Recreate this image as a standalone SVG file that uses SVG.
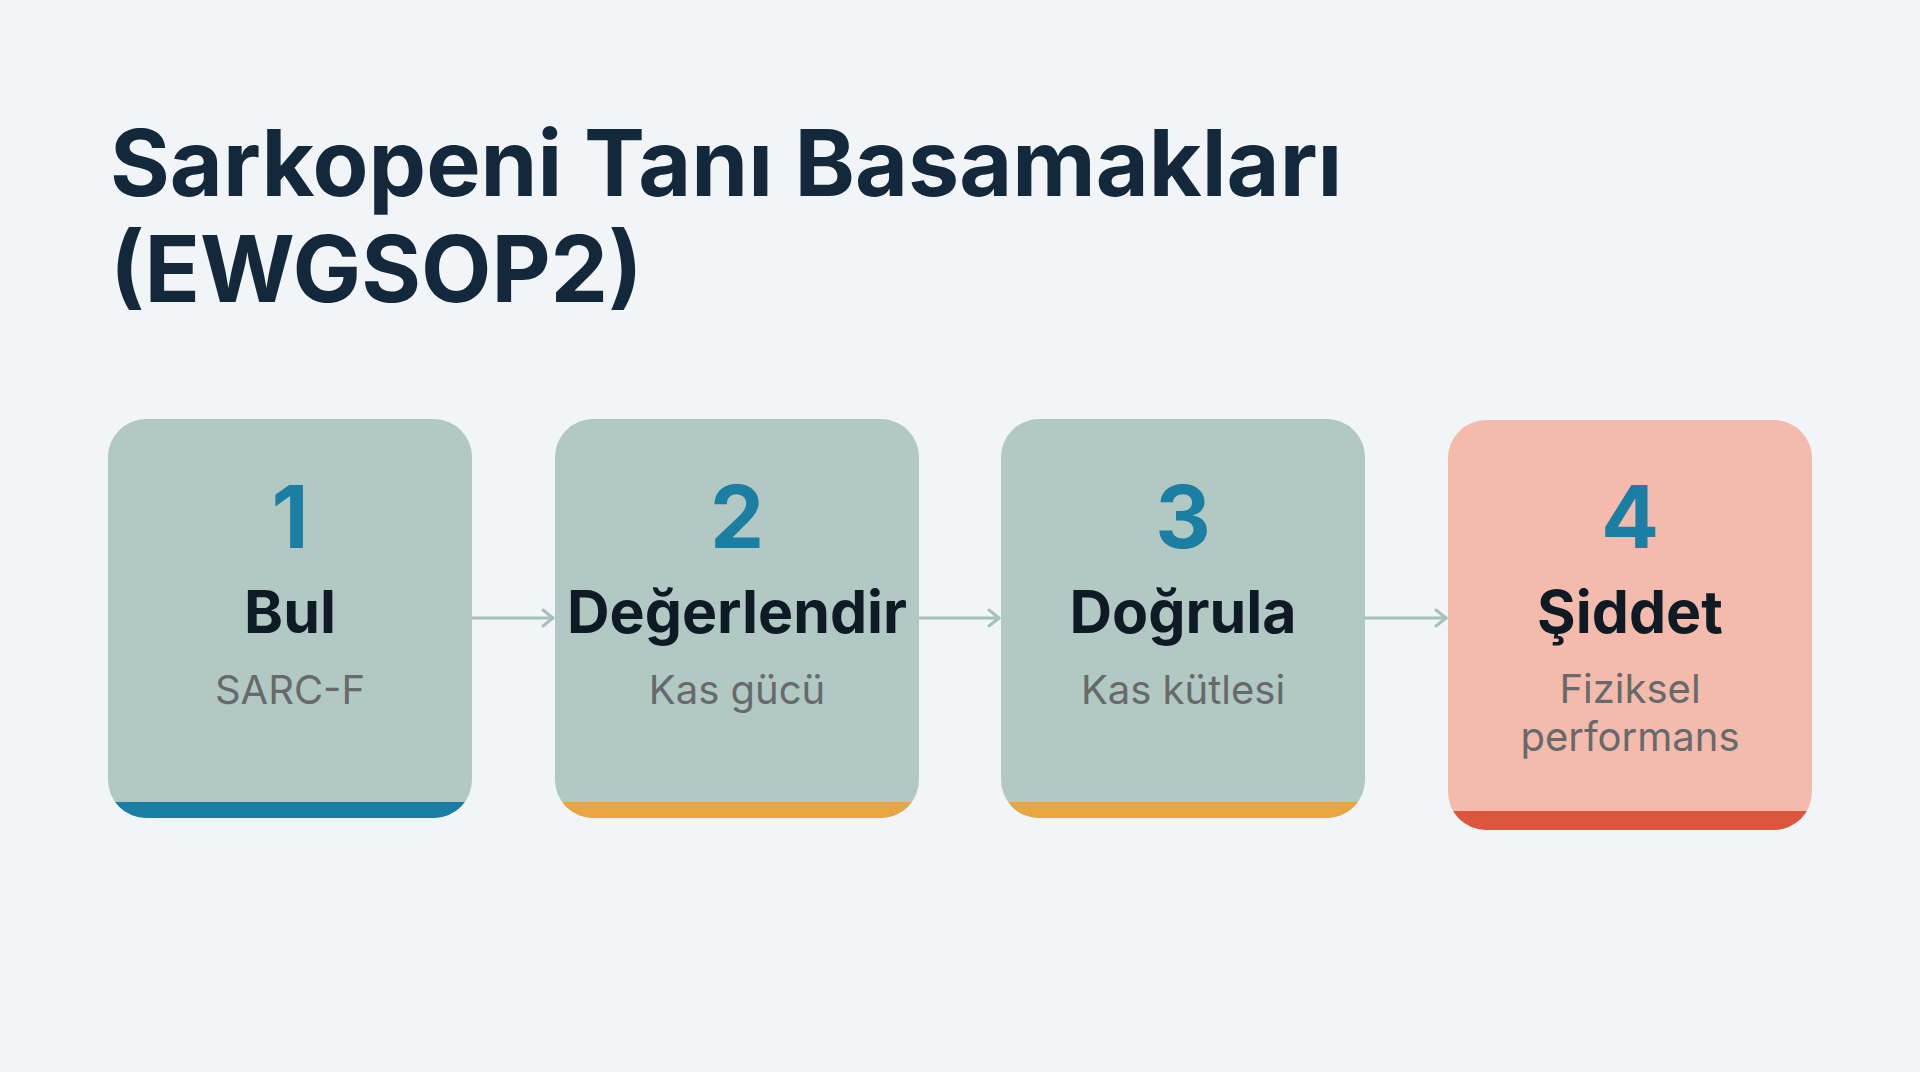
<svg xmlns="http://www.w3.org/2000/svg" width="1920" height="1072" viewBox="0 0 1920 1072">
<style>
.title{font-family:Inter,"Liberation Sans",sans-serif;font-weight:700;font-size:91.4px;fill:#13293b}
.num{font-family:Inter,"Liberation Sans",sans-serif;font-weight:700;font-size:86px;fill:#1b7ea3;text-anchor:middle}
.head{font-family:Inter,"Liberation Sans",sans-serif;font-weight:700;font-size:59px;fill:#0e1b25;text-anchor:middle}
.sub{font-family:Inter,"Liberation Sans",sans-serif;font-weight:400;font-size:40px;fill:#666a6b;text-anchor:middle}
.box{fill:#b1c9c2}
.box4{fill:#f4bbad}
.conn{stroke:#a7c1ba;stroke-width:3;fill:none;stroke-linecap:round;stroke-linejoin:round}
</style>
<defs>
<clipPath id="c1"><rect x="108" y="419" width="364" height="399" rx="38"/></clipPath>
<clipPath id="c2"><rect x="555" y="419" width="364" height="399" rx="38"/></clipPath>
<clipPath id="c3"><rect x="1001" y="419" width="364" height="399" rx="38"/></clipPath>
<clipPath id="c4"><rect x="1448" y="420" width="364" height="410" rx="38"/></clipPath>
<marker id="arr" viewBox="0 0 14 20" refX="12" refY="10" markerWidth="14" markerHeight="20" markerUnits="userSpaceOnUse" orient="auto">
<path d="M2,2 L12,10 L2,18" stroke="#a7c1ba" stroke-width="3" fill="none" stroke-linecap="round" stroke-linejoin="round"/>
</marker>
</defs>
<rect width="1920" height="1072" fill="#f2f5f7"/>
<g id="title">
<text class="title" x="110" y="196">Sarkopeni Tanı Basamakları</text>
<text class="title" x="110" y="302">(EWGSOP2)</text>
</g>
<g id="connectors">
<line class="conn" x1="472" y1="618" x2="553" y2="618" marker-end="url(#arr)"/>
<line class="conn" x1="919" y1="618" x2="999" y2="618" marker-end="url(#arr)"/>
<line class="conn" x1="1365" y1="618" x2="1446" y2="618" marker-end="url(#arr)"/>
</g>
<g id="node1">
<rect class="box" x="108" y="419" width="364" height="399" rx="38"/>
<rect x="108" y="802" width="364" height="16" fill="#1a7da4" clip-path="url(#c1)"/>
<text class="num" x="290" y="548">1</text>
<text class="head" x="290" y="633">Bul</text>
<text class="sub" x="290" y="704">SARC-F</text>
</g>
<g id="node2">
<rect class="box" x="555" y="419" width="364" height="399" rx="38"/>
<rect x="555" y="802" width="364" height="16" fill="#e8a540" clip-path="url(#c2)"/>
<text class="num" x="737" y="548">2</text>
<text class="head" x="737" y="633">Değerlendir</text>
<text class="sub" x="737" y="704">Kas gücü</text>
</g>
<g id="node3">
<rect class="box" x="1001" y="419" width="364" height="399" rx="38"/>
<rect x="1001" y="802" width="364" height="16" fill="#e8a540" clip-path="url(#c3)"/>
<text class="num" x="1183" y="548">3</text>
<text class="head" x="1183" y="633">Doğrula</text>
<text class="sub" x="1183" y="704">Kas kütlesi</text>
</g>
<g id="node4">
<rect class="box4" x="1448" y="420" width="364" height="410" rx="38"/>
<rect x="1448" y="811" width="364" height="19" fill="#dc563d" clip-path="url(#c4)"/>
<text class="num" x="1630" y="548">4</text>
<text class="head" x="1630" y="633">Şiddet</text>
<text class="sub" x="1630" y="703">Fiziksel</text>
<text class="sub" x="1630" y="751">performans</text>
</g>
</svg>
